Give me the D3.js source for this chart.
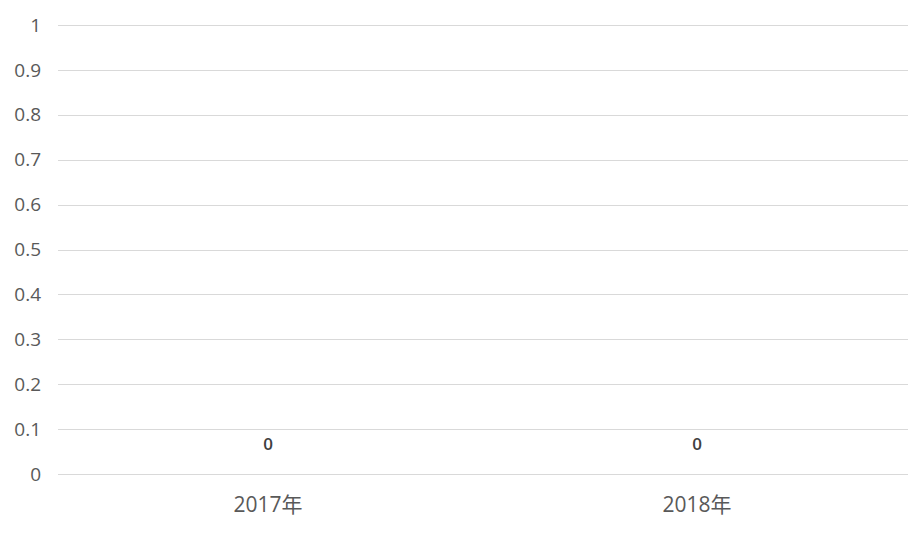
<!DOCTYPE html>
<meta charset="utf-8">
<html>
<head>
<script src="https://d3js.org/d3.v7.min.js"></script>
<style>
  body { margin: 0; background: #fff; }
  text { font-family: "Open Sans", "Noto Sans CJK SC", sans-serif; }
</style>
</head>
<body>
<svg id="chart" width="908" height="540"></svg>
<script>
// chart values
var categories = ["2017年", "2018年"];
var values = [0, 0];
var yTicks = [0, 0.1, 0.2, 0.3, 0.4, 0.5, 0.6, 0.7, 0.8, 0.9, 1];

var svg = d3.select("#chart");

// y: 0 -> 474px, 1 -> 25px
var y = d3.scaleLinear().domain([0, 1]).range([474, 25]);
var x = d3.scaleBand().domain(categories).range([53.5, 911.5]);

// gridlines
svg.append("g")
    .selectAll("line")
    .data(yTicks)
    .enter()
    .append("line")
        .attr("x1", 58)
        .attr("x2", 908)
        .attr("y1", function(d){ return Math.round(y(d)) + 0.5; })
        .attr("y2", function(d){ return Math.round(y(d)) + 0.5; })
        .attr("stroke", "#d9d9d9")
        .attr("stroke-width", 1);

// y tick labels
svg.append("g")
    .selectAll("text")
    .data(yTicks)
    .enter()
    .append("text")
        .attr("x", 41)
        .attr("y", function(d){ return y(d); })
        .attr("dy", "0.35em")
        .attr("text-anchor", "end")
        .attr("font-size", 19)
        .attr("fill", "#595959")
        .text(function(d){ return d; });

// bars (zero height)
svg.append("g")
    .selectAll("rect")
    .data(values)
    .enter()
    .append("rect")
        .attr("x", function(d, i){ return x(categories[i]) + x.bandwidth() * 0.3; })
        .attr("width", x.bandwidth() * 0.4)
        .attr("y", function(d){ return y(d); })
        .attr("height", function(d){ return y(0) - y(d); })
        .attr("fill", "#5b9bd5");

// data labels
svg.append("g")
    .selectAll("text")
    .data(values)
    .enter()
    .append("text")
        .attr("x", function(d, i){ return x(categories[i]) + x.bandwidth() / 2; })
        .attr("y", function(d){ return y(d) - 29.5; })
        .attr("dy", "0.35em")
        .attr("text-anchor", "middle")
        .attr("font-size", 17)
        .attr("font-weight", 600)
        .attr("fill", "#404040")
        .text(function(d){ return d; });

// category labels
svg.append("g")
    .selectAll("text")
    .data(categories)
    .enter()
    .append("text")
        .attr("x", function(d){ return x(d) + x.bandwidth() / 2; })
        .attr("y", 505)
        .attr("dy", "0.35em")
        .attr("text-anchor", "middle")
        .attr("font-size", 21)
        .attr("fill", "#595959")
        .text(function(d){ return d; });
</script>
</body>
</html>
